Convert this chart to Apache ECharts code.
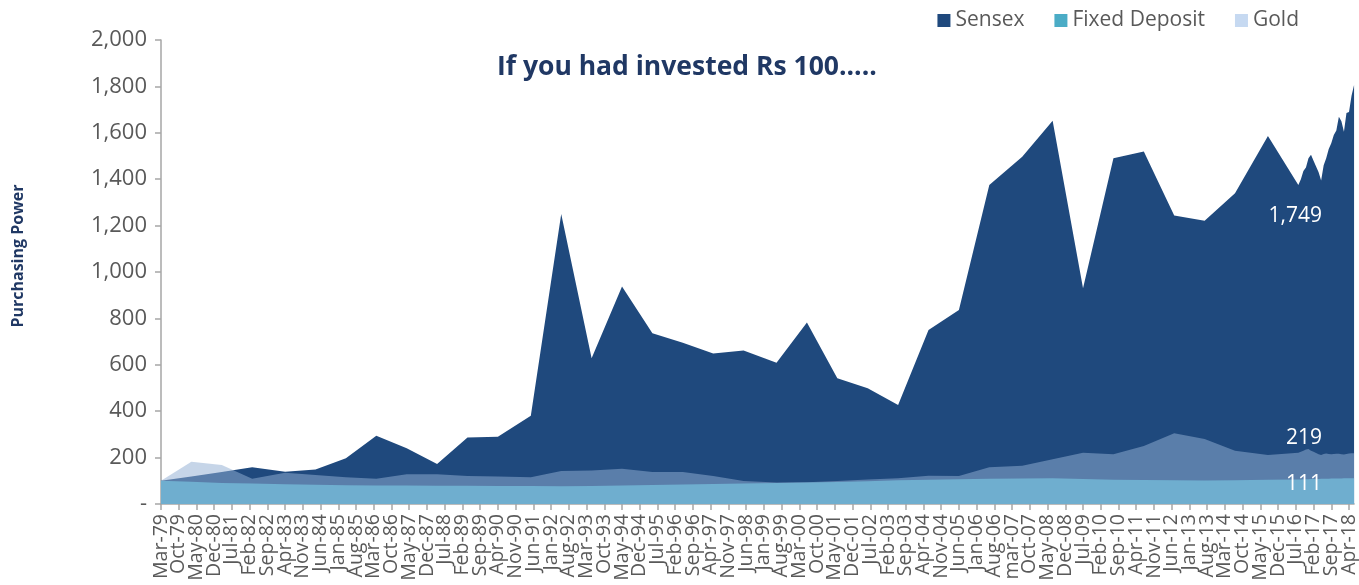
<!DOCTYPE html>
<html lang="en">
<head>
  <meta charset="UTF-8">
  <title>If you had invested Rs 100</title>
  <style>
    html,
    body,
    #main {
      margin: 0;
      padding: 0;
      background: #fff;
    }

    #main {
      width: 1359px;
      height: 585px;
    }
  </style>
</head>
<body>
  <div id="main"></div>
  <script src="https://cdn.jsdelivr.net/npm/echarts@6/dist/echarts.min.js"></script>
  <script>
    // axis labels, one every 7 months starting Mar-79
    const tickLabels = [
      'Mar-79', 'Oct-79', 'May-80', 'Dec-80', 'Jul-81', 'Feb-82', 'Sep-82', 'Apr-83', 'Nov-83', 'Jun-84',
      'Jan-85', 'Aug-85', 'Mar-86', 'Oct-86', 'May-87', 'Dec-87', 'Jul-88', 'Feb-89', 'Sep-89', 'Apr-90',
      'Nov-90', 'Jun-91', 'Jan-92', 'Aug-92', 'Mar-93', 'Oct-93', 'May-94', 'Dec-94', 'Jul-95', 'Feb-96',
      'Sep-96', 'Apr-97', 'Nov-97', 'Jun-98', 'Jan-99', 'Aug-99', 'Mar-00', 'Oct-00', 'May-01', 'Dec-01',
      'Jul-02', 'Feb-03', 'Sep-03', 'Apr-04', 'Nov-04', 'Jun-05', 'Jan-06', 'Aug-06', 'mar-07', 'Oct-07',
      'May-08', 'Dec-08', 'Jul-09', 'Feb-10', 'Sep-10', 'Apr-11', 'Nov-11', 'Jun-12', 'Jan-13', 'Aug-13',
      'Mar-14', 'Oct-14', 'May-15', 'Dec-15', 'Jul-16', 'Feb-17', 'Sep-17', 'Apr-18'
    ];

    // months since Mar-79 of the yearly readings
    const yearlyMonths = [
      0, 12, 24, 36, 49, 61, 73, 85, 97, 109, 121, 133, 146, 158, 170, 182, 194, 206, 218,
      230, 243, 255, 267, 279, 291, 303, 315, 327, 340, 352, 364, 376, 388, 400, 412, 424, 437, 449
    ];
    const sensexYearly = [
      100, 118, 138, 158, 139, 149, 197, 294, 240, 172, 287, 290, 380, 1250, 628, 937, 736, 695, 649,
      662, 609, 782, 542, 499, 427, 750, 836, 1375, 1497, 1652, 930, 1490, 1519, 1243, 1221, 1339, 1586, 1375
    ];
    const goldYearly = [
      100, 182, 168, 109, 135, 125, 115, 109, 128, 128, 121, 118, 115, 142, 144, 152, 138, 138, 121,
      99, 93, 94, 99, 106, 111, 122, 121, 158, 165, 193, 221, 214, 250, 305, 280, 230, 211, 221
    ];
    const fdYearly = [
      100, 96, 91, 88, 85, 83, 81, 80, 80, 79, 79, 78, 78, 76, 78, 80, 82, 84, 86,
      88, 91, 93, 95, 98, 102, 105, 107, 109, 110, 111, 108, 104, 103, 102, 101, 102, 104, 106
    ];

    // monthly readings from mid 2016
    const monthlyMonths = [
      450, 451, 452, 453, 454, 455, 456, 457, 458, 459, 460,
      461, 462, 463, 464, 465, 466, 467, 468, 469, 470, 471
    ];
    const sensexMonthly = [
      1400, 1435, 1450, 1490, 1505, 1480, 1455, 1430, 1394, 1460, 1490,
      1530, 1555, 1590, 1610, 1669, 1650, 1605, 1685, 1690, 1760, 1806
    ];
    const goldMonthly = [
      225, 230, 235, 237, 230, 225, 220, 214, 211, 216, 218,
      216, 214, 215, 217, 217, 214, 213, 216, 218, 219, 219
    ];
    const fdMonthly = [
      106, 107, 107, 107, 108, 108, 108, 108, 109, 109, 109,
      109, 110, 110, 110, 110, 110, 111, 111, 111, 111, 111
    ];

    const endLabels = { sensex: '1,749', gold: '219', fd: '111' };

    const pairs = (xs, ys) => xs.map((x, i) => [x, ys[i]]);
    const font = '"Open Sans", sans-serif';
    const tickValues = tickLabels.map((_, i) => i * 7);
    // labels are packed tight, so split them over two stacked axes to stop echarts hiding some
    const evenTicks = tickValues.filter((_, i) => i % 2 === 0);
    const oddTicks = tickValues.filter((_, i) => i % 2 === 1);

    const labelStyle = (values) => ({
      customValues: values,
      rotate: 90,
      margin: 10,
      color: '#595959',
      fontSize: 19.5,
      fontFamily: font,
      showMinLabel: true,
      showMaxLabel: true,
      formatter: v => tickLabels[Math.round(v / 7)]
    });

    const myChart = echarts.init(document.getElementById('main'));
    const option = {
      animation: false,
      textStyle: { fontFamily: font },
      title: {
        text: 'If you had invested Rs 100.....',
        left: 492,
        top: 49,
        textStyle: { color: '#203864', fontSize: 26.5, fontWeight: 'bold', fontFamily: font }
      },
      legend: {
        data: ['Sensex', 'Fixed Deposit', 'Gold'],
        right: 55,
        top: 5,
        icon: 'rect',
        itemWidth: 13,
        itemHeight: 13,
        itemGap: 30,
        textStyle: { color: '#595959', fontSize: 21, fontFamily: font }
      },
      grid: {
        left: 161,
        right: 2,
        top: 40,
        bottom: 81,
        containLabel: false
      },
      xAxis: [{
          type: 'value',
          position: 'bottom',
          min: 0,
          max: 471,
          splitLine: { show: false },
          axisLine: { lineStyle: { color: '#A6A6A6', width: 1.5 } },
          axisTick: {
            customValues: tickValues,
            length: 6,
            lineStyle: { color: '#A6A6A6', width: 1.5 }
          },
          axisLabel: labelStyle(evenTicks)
        },
        {
          type: 'value',
          position: 'bottom',
          offset: 0,
          min: 0,
          max: 471,
          splitLine: { show: false },
          axisLine: { show: false },
          axisTick: { show: false },
          axisLabel: labelStyle(oddTicks)
        }
      ],
      yAxis: {
        type: 'value',
        min: 0,
        max: 2000,
        interval: 200,
        name: 'Purchasing Power',
        nameLocation: 'middle',
        nameGap: 135,
        nameTextStyle: {
          color: '#203864',
          fontSize: 16,
          fontWeight: 'bold',
          fontFamily: font,
          padding: [0, 0, 0, 32]
        },
        splitLine: { show: false },
        axisLine: { show: true, lineStyle: { color: '#A6A6A6', width: 1.5 } },
        axisTick: { show: true, length: 6, lineStyle: { color: '#A6A6A6', width: 1.5 } },
        axisLabel: {
          margin: 14,
          color: '#595959',
          fontSize: 22,
          fontFamily: font,
          formatter: v => v === 0 ? '-' : v.toLocaleString('en-US')
        }
      },
      series: [{
          name: 'Sensex',
          type: 'line',
          symbol: 'none',
          lineStyle: { width: 0 },
          itemStyle: { color: '#1F497D' },
          areaStyle: { color: '#1F497D', opacity: 1 },
          endLabel: {
            show: true,
            formatter: () => endLabels.sensex,
            color: '#fff',
            fontSize: 21,
            fontFamily: font,
            align: 'right',
            offset: [-40, 131]
          },
          data: pairs(yearlyMonths, sensexYearly).concat(pairs(monthlyMonths, sensexMonthly))
        },
        {
          name: 'Gold',
          type: 'line',
          symbol: 'none',
          lineStyle: { width: 0 },
          itemStyle: { color: '#C6D9F1' },
          areaStyle: { color: 'rgba(146,175,211,0.52)', opacity: 1 },
          endLabel: {
            show: true,
            formatter: () => endLabels.gold,
            color: '#fff',
            fontSize: 21,
            fontFamily: font,
            align: 'right',
            offset: [-40, -15]
          },
          data: pairs(yearlyMonths, goldYearly).concat(pairs(monthlyMonths, goldMonthly))
        },
        {
          name: 'Fixed Deposit',
          type: 'line',
          symbol: 'none',
          lineStyle: { width: 0 },
          itemStyle: { color: '#4BACC6' },
          areaStyle: { color: '#6FAECF', opacity: 1 },
          endLabel: {
            show: true,
            formatter: () => endLabels.fd,
            color: '#fff',
            fontSize: 21,
            fontFamily: font,
            align: 'right',
            offset: [-40, 6]
          },
          data: pairs(yearlyMonths, fdYearly).concat(pairs(monthlyMonths, fdMonthly))
        }
      ]
    };

    myChart.setOption(option);
  </script>
</body>

</html>
